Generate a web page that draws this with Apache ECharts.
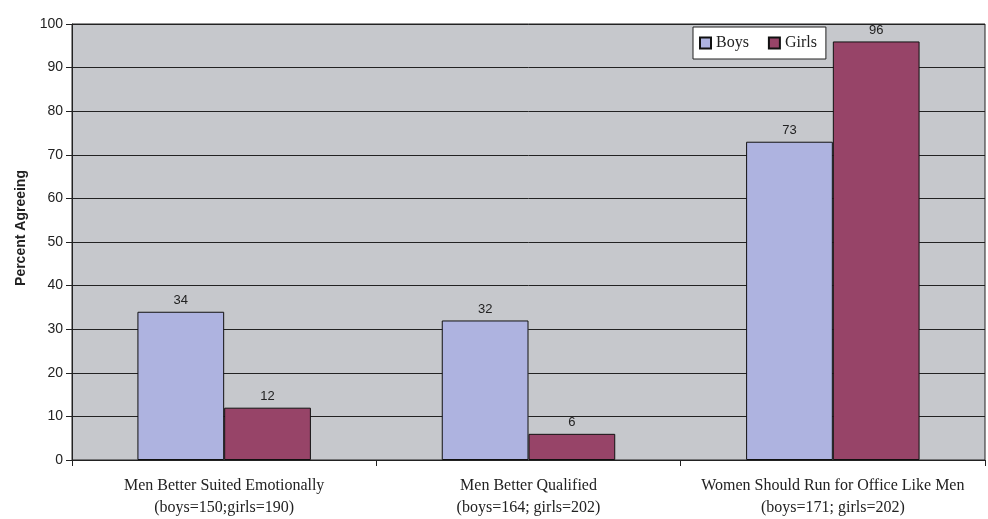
<!DOCTYPE html>
<html><head><meta charset="utf-8">
<script src="https://cdn.jsdelivr.net/npm/echarts@6/dist/echarts.min.js"></script>
<style>html,body{margin:0;padding:0;background:#fff}#c{width:988px;height:519px}</style>
</head><body><div id="c"></div>
<script>
const categories = ["Men Better Suited Emotionally\n(boys=150;girls=190)", "Men Better Qualified\n(boys=164; girls=202)", "Women Should Run for Office Like Men\n(boys=171; girls=202)"];
const boys = [34, 32, 73];
const girls = [12, 6, 96];
const yTicks = {min: 0, max: 100, interval: 10};

const chart = echarts.init(document.getElementById('c'), null, {renderer: 'canvas'});
const labelStyle = {show: true, position: 'top', distance: 5, color: '#222', fontFamily: 'Liberation Sans, Arial', fontSize: 13};
chart.setOption({
  animation: false,
  grid: {left: 72, right: 3, top: 24, bottom: 56, show: true, backgroundColor: '#C6C8CC', borderColor: '#222', borderWidth: 1},
  legend: {
    left: 693, top: 27, padding: [8, 9, 8, 6], itemWidth: 11, itemHeight: 11, itemGap: 19,
    backgroundColor: '#fff', borderColor: '#222', borderWidth: 1,
    textStyle: {fontFamily: 'Liberation Serif, Times New Roman, serif', fontSize: 16, color: '#222'},
    data: [{name: 'Boys', icon: 'rect'}, {name: 'Girls', icon: 'rect'}]
  },
  xAxis: {
    type: 'category', data: categories,
    axisLine: {lineStyle: {color: '#222', width: 1}},
    axisTick: {show: true, interval: 0, length: 6, lineStyle: {color: '#222'}},
    axisLabel: {interval: 0, color: '#222', fontFamily: 'Liberation Serif, Times New Roman, serif', fontSize: 16, lineHeight: 22, margin: 15}
  },
  yAxis: {
    type: 'value', min: yTicks.min, max: yTicks.max, interval: yTicks.interval,
    name: 'Percent Agreeing', nameLocation: 'middle', nameGap: 44, nameRotate: 90,
    nameTextStyle: {fontFamily: 'Liberation Sans, Arial', fontWeight: 'bold', fontSize: 14, color: '#222', padding: [0, 0, 0, 28]},
    axisLine: {show: true, lineStyle: {color: '#222', width: 1}},
    axisTick: {show: true, length: 6, lineStyle: {color: '#222'}},
    axisLabel: {color: '#222', fontFamily: 'Liberation Sans, Arial', fontSize: 14, margin: 9},
    splitLine: {show: true, lineStyle: {color: '#222', width: 1}}
  },
  series: [
    {name: 'Boys', type: 'bar', data: boys, barGap: '0%', barCategoryGap: '43%',
     itemStyle: {color: '#AEB3E0', borderColor: '#111', borderWidth: 1}, label: labelStyle},
    {name: 'Girls', type: 'bar', data: girls,
     itemStyle: {color: '#974468', borderColor: '#111', borderWidth: 1}, label: labelStyle}
  ]
});
</script></body></html>
